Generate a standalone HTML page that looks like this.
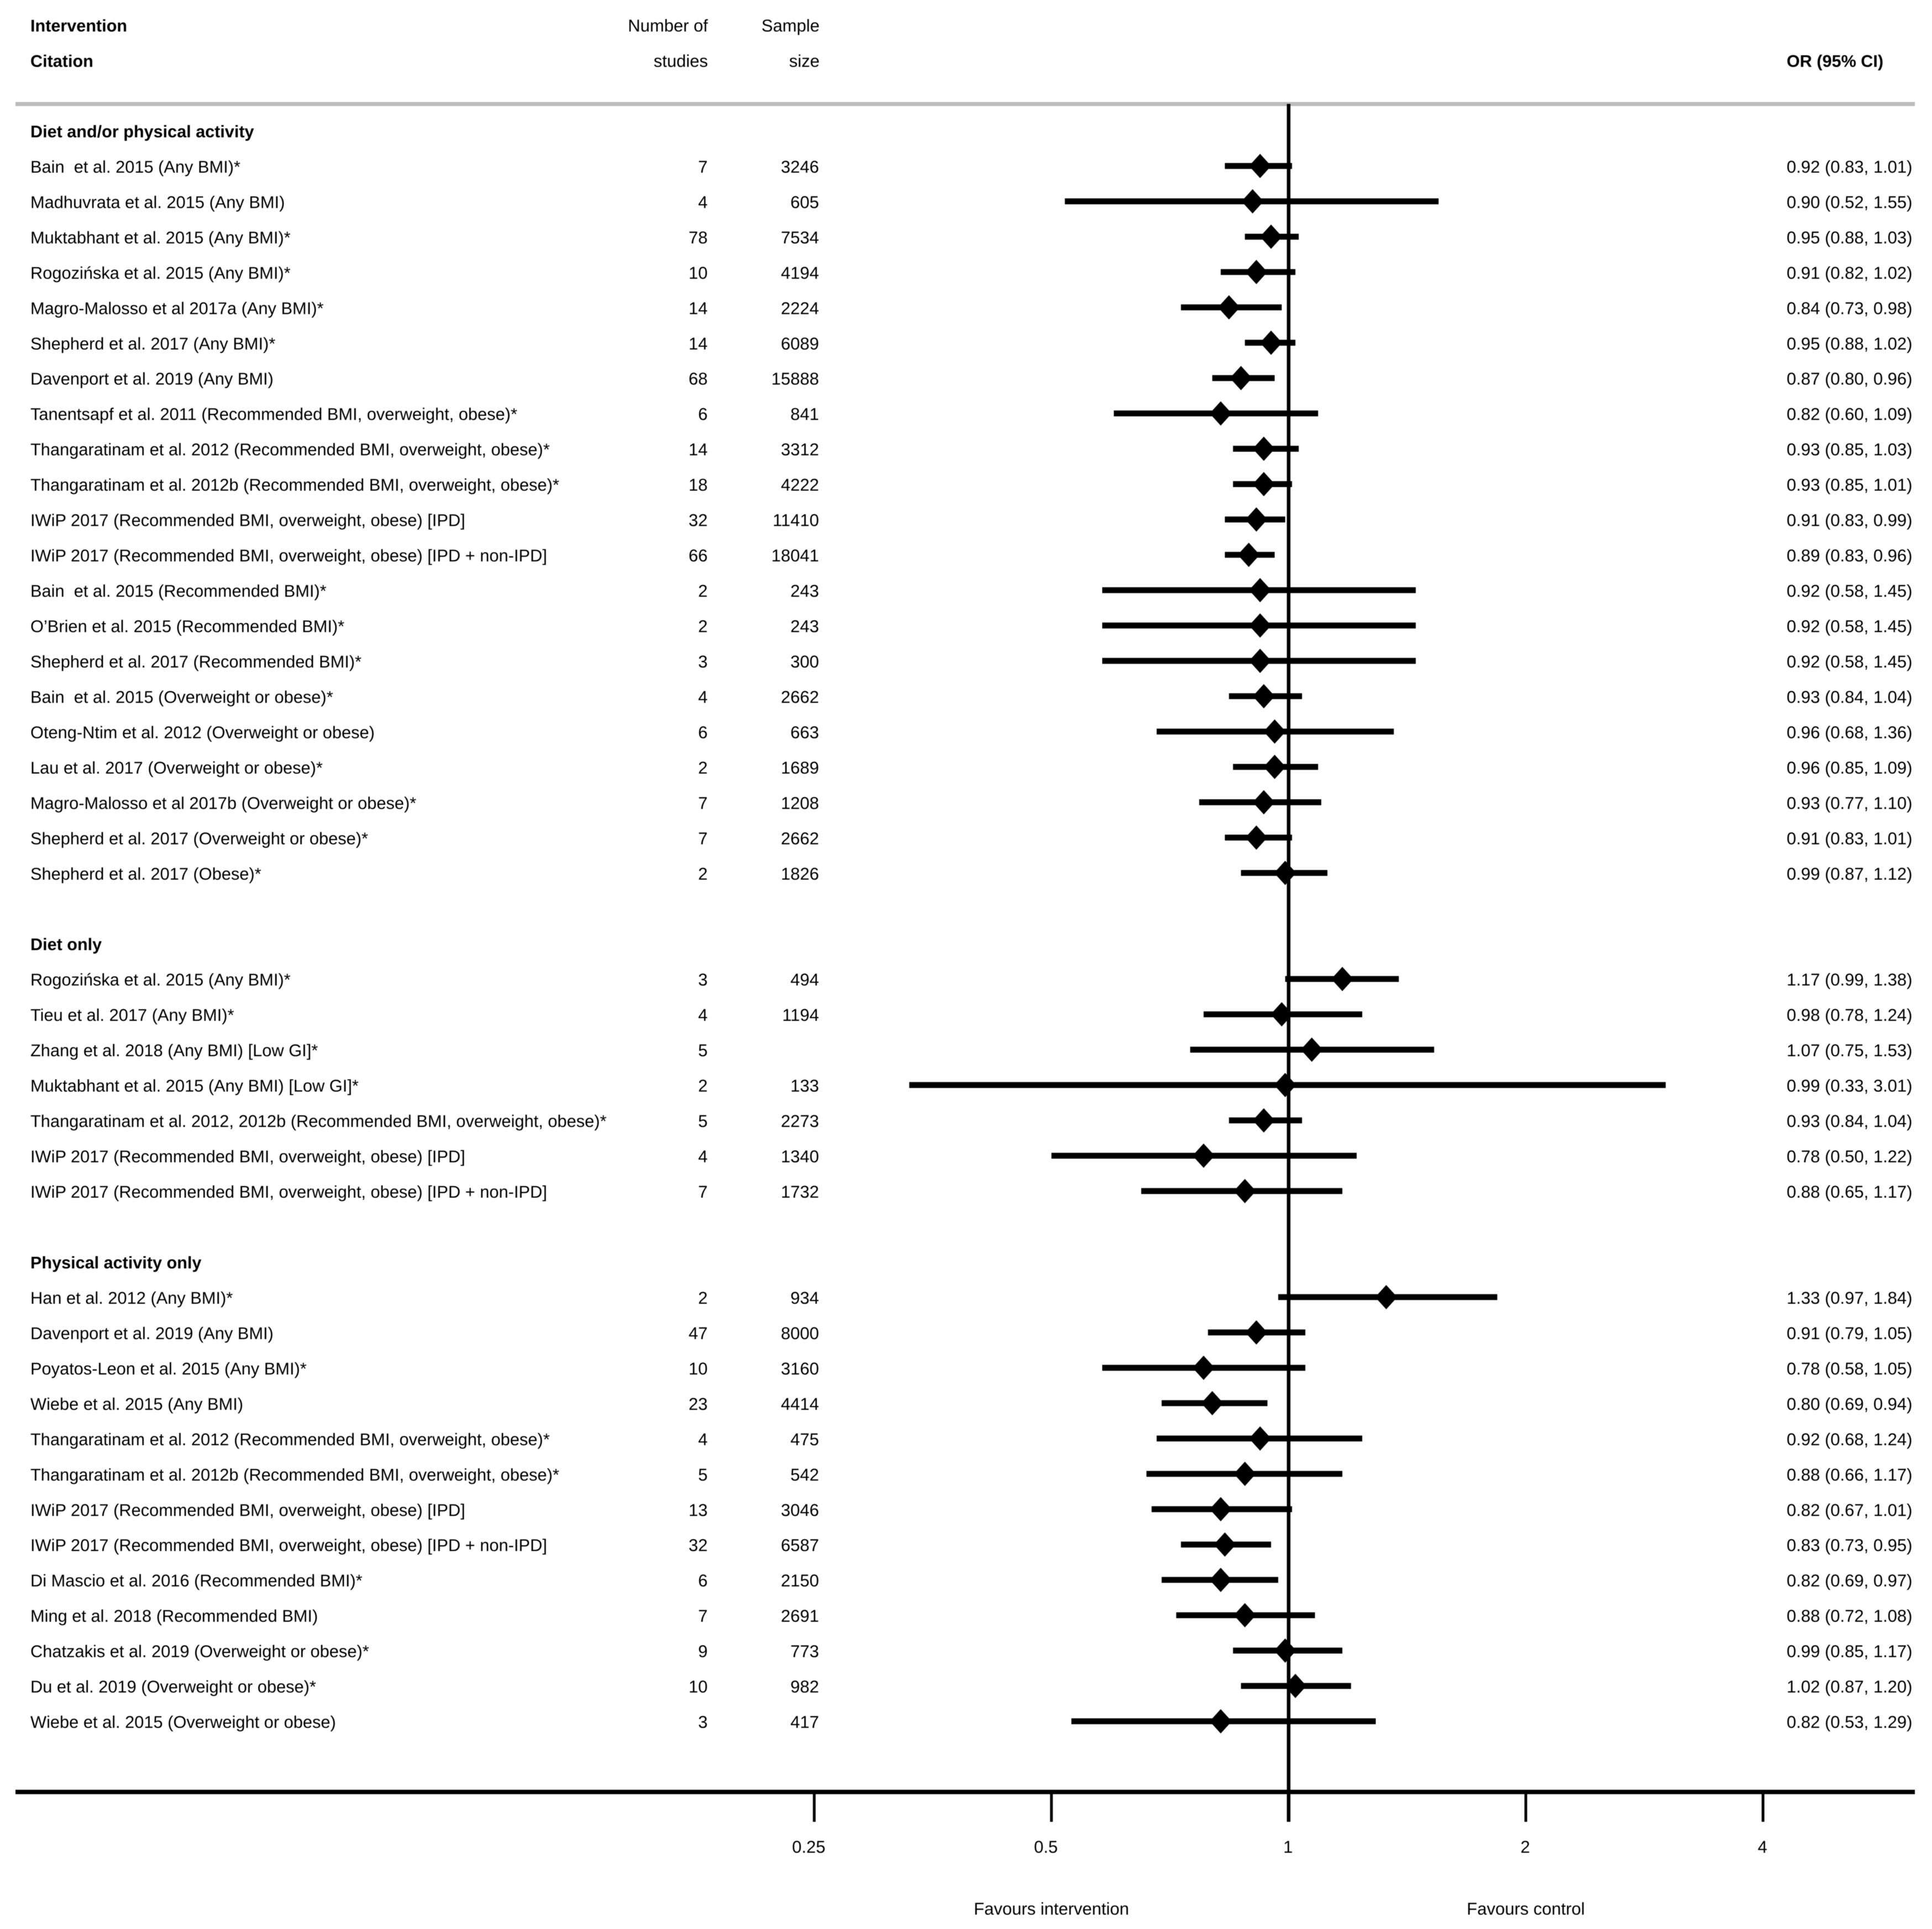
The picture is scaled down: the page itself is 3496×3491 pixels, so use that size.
<!DOCTYPE html>
<html lang="en">
<head>
<meta charset="utf-8">
<title>Forest plot of interventions</title>
<style>
html,body{margin:0;padding:0;background:#fff;}
svg{display:block;filter:blur(0.5px);}
text{font-family:"Liberation Sans",Arial,sans-serif;font-size:31px;fill:#000;white-space:pre;text-rendering:geometricPrecision;}
text.c{font-size:30.8px;}
text.b{font-weight:bold;font-size:30.6px;}
</style>
</head>
<body>
<svg id="chart" xmlns="http://www.w3.org/2000/svg" width="3496" height="3491" viewBox="0 0 3496 3491">
  <rect x="0" y="0" width="3496" height="3491" fill="#fff"/>
  <text class="b" x="55" y="57">Intervention</text>
  <text class="b" x="55" y="121">Citation</text>
  <text x="1281" y="57" text-anchor="end">Number of</text>
  <text x="1281" y="121" text-anchor="end">studies</text>
  <text x="1483" y="57" text-anchor="end">Sample</text>
  <text x="1483" y="121" text-anchor="end">size</text>
  <text class="b" x="3233" y="121">OR (95% CI)</text>
  <rect x="28" y="184.5" width="3437" height="7.5" fill="#bcbcbc"/>
  <g id="rows"></g>
  <g id="marks"></g>
  <g id="axis"></g>
</svg>
<script>
var rowLabels = [
"Diet and/or physical activity",
"Bain  et al. 2015 (Any BMI)*",
"Madhuvrata et al. 2015 (Any BMI)",
"Muktabhant et al. 2015 (Any BMI)*",
"Rogozińska et al. 2015 (Any BMI)*",
"Magro-Malosso et al 2017a (Any BMI)*",
"Shepherd et al. 2017 (Any BMI)*",
"Davenport et al. 2019 (Any BMI)",
"Tanentsapf et al. 2011 (Recommended BMI, overweight, obese)*",
"Thangaratinam et al. 2012 (Recommended BMI, overweight, obese)*",
"Thangaratinam et al. 2012b (Recommended BMI, overweight, obese)*",
"IWiP 2017 (Recommended BMI, overweight, obese) [IPD]",
"IWiP 2017 (Recommended BMI, overweight, obese) [IPD + non-IPD]",
"Bain  et al. 2015 (Recommended BMI)*",
"O’Brien et al. 2015 (Recommended BMI)*",
"Shepherd et al. 2017 (Recommended BMI)*",
"Bain  et al. 2015 (Overweight or obese)*",
"Oteng-Ntim et al. 2012 (Overweight or obese)",
"Lau et al. 2017 (Overweight or obese)*",
"Magro-Malosso et al 2017b (Overweight or obese)*",
"Shepherd et al. 2017 (Overweight or obese)*",
"Shepherd et al. 2017 (Obese)*",
"",
"Diet only",
"Rogozińska et al. 2015 (Any BMI)*",
"Tieu et al. 2017 (Any BMI)*",
"Zhang et al. 2018 (Any BMI) [Low GI]*",
"Muktabhant et al. 2015 (Any BMI) [Low GI]*",
"Thangaratinam et al. 2012, 2012b (Recommended BMI, overweight, obese)*",
"IWiP 2017 (Recommended BMI, overweight, obese) [IPD]",
"IWiP 2017 (Recommended BMI, overweight, obese) [IPD + non-IPD]",
"",
"Physical activity only",
"Han et al. 2012 (Any BMI)*",
"Davenport et al. 2019 (Any BMI)",
"Poyatos-Leon et al. 2015 (Any BMI)*",
"Wiebe et al. 2015 (Any BMI)",
"Thangaratinam et al. 2012 (Recommended BMI, overweight, obese)*",
"Thangaratinam et al. 2012b (Recommended BMI, overweight, obese)*",
"IWiP 2017 (Recommended BMI, overweight, obese) [IPD]",
"IWiP 2017 (Recommended BMI, overweight, obese) [IPD + non-IPD]",
"Di Mascio et al. 2016 (Recommended BMI)*",
"Ming et al. 2018 (Recommended BMI)",
"Chatzakis et al. 2019 (Overweight or obese)*",
"Du et al. 2019 (Overweight or obese)*",
"Wiebe et al. 2015 (Overweight or obese)"
];
var studyCounts = [null,7,4,78,10,14,14,68,6,14,18,32,66,2,2,3,4,6,2,7,7,2,null,null,3,4,5,2,5,4,7,null,null,2,47,10,23,4,5,13,32,6,7,9,10,3];
var sampleSizes = [null,3246,605,7534,4194,2224,6089,15888,841,3312,4222,11410,18041,243,243,300,2662,663,1689,1208,2662,1826,null,null,494,1194,null,133,2273,1340,1732,null,null,934,8000,3160,4414,475,542,3046,6587,2150,2691,773,982,417];
var orValues = [null,0.92,0.90,0.95,0.91,0.84,0.95,0.87,0.82,0.93,0.93,0.91,0.89,0.92,0.92,0.92,0.93,0.96,0.96,0.93,0.91,0.99,null,null,1.17,0.98,1.07,0.99,0.93,0.78,0.88,null,null,1.33,0.91,0.78,0.80,0.92,0.88,0.82,0.83,0.82,0.88,0.99,1.02,0.82];
var ciLows = [null,0.83,0.52,0.88,0.82,0.73,0.88,0.80,0.60,0.85,0.85,0.83,0.83,0.58,0.58,0.58,0.84,0.68,0.85,0.77,0.83,0.87,null,null,0.99,0.78,0.75,0.33,0.84,0.50,0.65,null,null,0.97,0.79,0.58,0.69,0.68,0.66,0.67,0.73,0.69,0.72,0.85,0.87,0.53];
var ciHighs = [null,1.01,1.55,1.03,1.02,0.98,1.02,0.96,1.09,1.03,1.01,0.99,0.96,1.45,1.45,1.45,1.04,1.36,1.09,1.10,1.01,1.12,null,null,1.38,1.24,1.53,3.01,1.04,1.22,1.17,null,null,1.84,1.05,1.05,0.94,1.24,1.17,1.01,0.95,0.97,1.08,1.17,1.20,1.29];
var axisTicks = [0.25,0.5,1,2,4];
var axisTickLabels = ["0.25","0.5","1","2","4"];
var favourLabels = ["Favours intervention","Favours control"];
var favourAt = [0.5,2];

var NS = "http://www.w3.org/2000/svg";
function xScale(v){ return 2331.8 + 429.2 * Math.log2(v); }
function rowMid(i){ return 300.4 + (i - 1) * 63.97; }
function rowBase(i){ return 312.4 + (i - 1) * 63.97; }
function make(tag, attrs, parent, content){
  var el = document.createElementNS(NS, tag);
  for (var k in attrs) el.setAttribute(k, attrs[k]);
  if (content !== undefined) el.textContent = content;
  parent.appendChild(el);
  return el;
}
var rowsG = document.getElementById("rows");
var marksG = document.getElementById("marks");
var axisG = document.getElementById("axis");
var el;

/* reference line drawn through the plot */
el = make("line", {x1:xScale(1), x2:xScale(1), y1:188, y2:3297, stroke:"#000", "stroke-width":6.5}, marksG);



rowLabels.forEach(function(label, i){
  if (!label) return;
  var isHeader = orValues[i] === null;
  el = make("text", {x:55, y:rowBase(i), "class":isHeader ? "b" : "c"}, rowsG, label);
  
  
  if (isHeader) return;

  el = make("text", {x:1280.5, y:rowBase(i), "text-anchor":"end"}, rowsG, String(studyCounts[i]));
  
  

  if (sampleSizes[i] !== null) {
    el = make("text", {x:1482, y:rowBase(i), "text-anchor":"end"}, rowsG, String(sampleSizes[i]));
    
    
  }

  var orText = orValues[i].toFixed(2) + " (" + ciLows[i].toFixed(2) + ", " + ciHighs[i].toFixed(2) + ")";
  el = make("text", {x:3233, y:rowBase(i)}, rowsG, orText);
  
  

  var my = rowMid(i);
  el = make("line", {x1:xScale(ciLows[i]), x2:xScale(ciHighs[i]), y1:my, y2:my, stroke:"#000", "stroke-width":10.7}, marksG);
  
  

  var mx = xScale(orValues[i]);
  var pts = [[mx,my-22],[mx+20,my],[mx,my+22],[mx-20,my]].map(function(p){return p.join(",");}).join(" ");
  el = make("polygon", {points:pts, fill:"#000"}, marksG);
  
  
});

el = make("rect", {x:28, y:3239, width:3437, height:8, fill:"#000"}, axisG);



axisTicks.forEach(function(t, i){
  var x = xScale(t);
  el = make("line", {x1:x, x2:x, y1:3243, y2:3297, stroke:"#000", "stroke-width":5}, axisG);
  
  
  var lab = axisTickLabels[i];
  var dx = lab.indexOf(".") >= 0 ? -10 : -1;
  el = make("text", {x:x + dx, y:3353, "text-anchor":"middle"}, axisG, lab);
  
  
});

favourLabels.forEach(function(lab, i){
  el = make("text", {x:xScale(favourAt[i]), y:3465, "text-anchor":"middle"}, axisG, lab);
  
  
});
</script>
</body>
</html>
